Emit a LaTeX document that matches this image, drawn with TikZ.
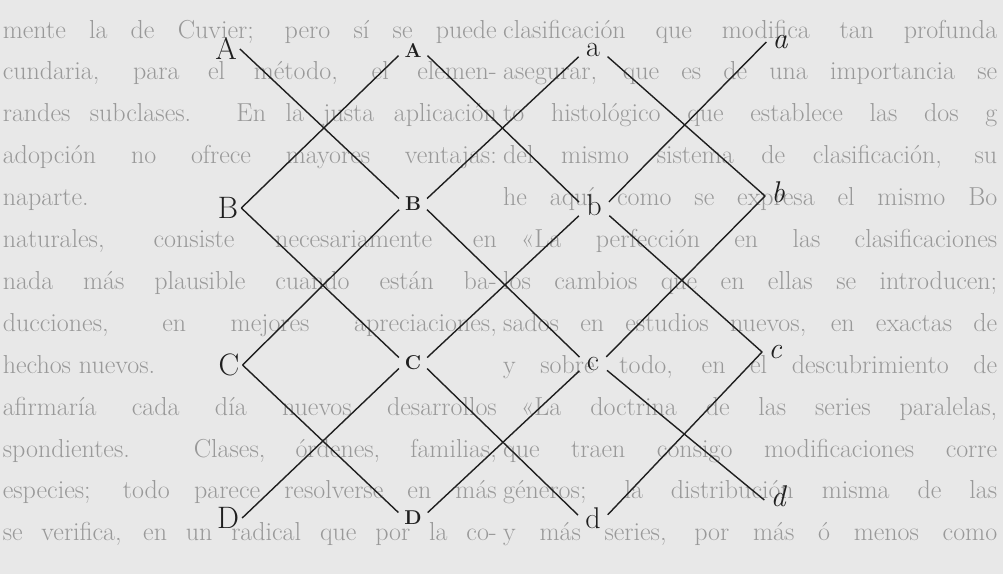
\documentclass[tikz,border=0pt]{standalone}
\usepackage{fontspec}

\definecolor{papel}{gray}{0.91}
\definecolor{tinta}{gray}{0.6}
\definecolor{trazo}{gray}{0.12}

%% un renglón del texto de fondo, partido en la costura (x = 500)
%% #1 número, #2/#3 ajuste y texto de la derecha, #4/#5 ajuste y texto de la izquierda
\newcommand{\renglon}[5]{%
  \node[fondo, anchor=base west] (der#1) at (503, {38+41.9*(#1-1)}) {\makebox[494pt][#2]{#3}};
  \node[fondo, anchor=base east] (izq#1) at (497, {38+41.9*(#1-1)}) {\makebox[494pt][#4]{#5}};
}

\begin{document}
\begin{tikzpicture}[x=1pt, y=-1pt,
  fondo/.style={inner sep=0, text=tinta, font=\fontsize{26}{30}\selectfont},
  linea/.style={line width=1.4pt, draw=trazo},
  mayus/.style={font=\fontsize{31}{36}\selectfont, inner sep=3pt, text=trazo},
  versal/.style={font=\bfseries\fontsize{20}{24}\selectfont, inner sep=0pt, text=trazo},
  minus/.style={font=\fontsize{30}{36}\selectfont, text height=13pt, text depth=0pt, inner sep=0pt, text=trazo},
  cursiva/.style={font=\itshape\fontsize{30}{36}\selectfont, text height=13pt, text depth=0pt, inner sep=6pt, text=trazo}]

  %% papel
  \useasboundingbox (0,0) rectangle (1003,574);
  \fill[papel] (0,0) rectangle (1003,574);

  %% texto de fondo
  \renglon{1}{s}{clasificación que modifica tan profunda}{s}{mente la de Cuvier; pero sí se puede}
  \renglon{2}{s}{asegurar, que es de una importancia se}{s}{cundaria, para el método, el elemen-}
  \renglon{3}{s}{to histológico que establece las dos g}{s}{randes subclases. En la justa aplicación}
  \renglon{4}{s}{del mismo sistema de clasificación, su}{s}{adopción no ofrece mayores ventajas:}
  \renglon{5}{s}{he aquí como se expresa el mismo Bo}{l}{naparte.}
  \renglon{6}{s}{\hspace*{18pt}«La perfección en las clasificaciones}{s}{naturales, consiste necesariamente en}
  \renglon{7}{s}{los cambios que en ellas se introducen;}{s}{nada más plausible cuando están ba-}
  \renglon{8}{s}{sados en estudios nuevos, en exactas de}{s}{ducciones, en mejores apreciaciones,}
  \renglon{9}{s}{y sobre todo, en el descubrimiento de}{l}{hechos nuevos.}
  \renglon{10}{s}{\hspace*{18pt}«La doctrina de las series paralelas,}{s}{afirmaría cada día nuevos desarrollos}
  \renglon{11}{s}{que traen consigo modificaciones corre}{s}{spondientes. Clases, órdenes, familias,}
  \renglon{12}{s}{géneros; la distribución misma de las}{s}{especies; todo parece resolverse en más}
  \renglon{13}{s}{y más series, por más ó menos como}{s}{se verifica, en un radical que por la co-}

  %% primera columna
  \node[mayus] (A1) at (226,49) {A};
  \node[mayus] (B1) at (228,208) {B};
  \node[mayus] (C1) at (229,365) {C};
  \node[mayus] (D1) at (228,518) {D};

  %% versalitas
  \node[versal] (A2) at (413,50) {A};
  \node[versal] (B2) at (413,204) {B};
  \node[versal] (C2) at (413,363) {C};
  \node[versal] (D2) at (413,518) {D};

  %% minúsculas
  \node[minus] (a3) at (593,50) {a};
  \node[minus] (b3) at (594,209) {b};
  \node[minus] (c3) at (593,364) {c};
  \node[minus] (d3) at (593,522) {d};

  %% cursivas
  \node[cursiva] (a4) at (780,42) {a};
  \node[cursiva] (b4) at (778,196) {b};
  \node[cursiva] (c4) at (775,352) {c};
  \node[cursiva] (d4) at (778,500) {d};

  %% A B C D -- versalitas
  \begin{scope}[shorten >=8pt]
    \draw[linea] (A1.east) -- (B2.west);
    \draw[linea] (B1.east) -- (A2.west);
    \draw[linea] (B1.east) -- (C2.west);
    \draw[linea] (C1.east) -- (B2.west);
    \draw[linea] (C1.east) -- (D2.west);
    \draw[linea] (D1.east) -- (C2.west);
  \end{scope}

  %% versalitas -- a b c d
  \begin{scope}[shorten <=8pt, shorten >=10pt]
    \draw[linea] (A2.east) -- (b3.west);
    \draw[linea] (B2.east) -- (a3.west);
    \draw[linea] (B2.east) -- (c3.west);
    \draw[linea] (C2.east) -- (b3.west);
    \draw[linea] (C2.east) -- (d3.west);
    \draw[linea] (D2.east) -- (c3.west);
  \end{scope}

  %% a b c d -- cursivas
  \begin{scope}[shorten <=10pt]
    \draw[linea] (a3.east) -- (b4.west);
    \draw[linea] (b3.east) -- (a4.west);
    \draw[linea] (b3.east) -- (c4.west);
    \draw[linea] (c3.east) -- (b4.west);
    \draw[linea] (c3.east) -- (d4.west);
    \draw[linea] (d3.east) -- (c4.west);
  \end{scope}
\end{tikzpicture}
\end{document}
